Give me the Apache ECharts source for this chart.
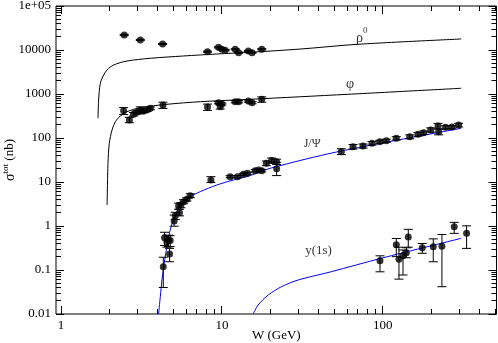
<!DOCTYPE html>
<html><head><meta charset="utf-8">
<script src="https://cdn.jsdelivr.net/npm/echarts@6/dist/echarts.min.js"></script>
<style>html,body{margin:0;padding:0;background:#fff}#c{width:498px;height:343px}</style>
</head><body><div id="c"></div>
<script>
const FONT = '"Liberation Serif","DejaVu Serif",serif';

// tick labels by decade exponent
const xTickLabels = { 0: '1', 1: '10', 2: '100' };
const yTickLabels = { '-2': '0.01', '-1': '0.1', 0: '1', 1: '10', 2: '100', 3: '1000', 4: '10000', 5: '1e+05' };
const xRange = [0.93, 510];
const yRange = [0.01, 100000];

// measured points: [W (GeV), sigma (nb), error low, error high]
const rhoData = [
  [2.47, 21900, 21200, 22600], [3.11, 16900, 16400, 17400], [4.28, 13700, 13300, 14100],
  [8.14, 9160, 8900, 9430], [9.52, 11500, 11150, 11850], [10.0, 10400, 10100, 10700],
  [10.48, 9900, 9600, 10200], [12.1, 10400, 10100, 10700], [12.7, 8700, 8450, 8950],
  [14.6, 9500, 9200, 9800], [15.4, 8700, 8450, 8950], [17.7, 10400, 10100, 10700]
];
const phiData = [
  [2.45, 417, 340, 490], [2.66, 257, 223, 295], [2.82, 346, 315, 380], [2.96, 384, 350, 420],
  [3.11, 433, 355, 510], [3.26, 411, 380, 445], [3.42, 433, 400, 468], [3.59, 473, 440, 505],
  [4.30, 562, 470, 650], [8.14, 507, 425, 590], [9.52, 634, 600, 670], [9.76, 515, 455, 580],
  [10.0, 593, 560, 625], [12.1, 668, 630, 705], [12.7, 668, 630, 705], [14.6, 693, 655, 730],
  [15.4, 634, 600, 670], [17.7, 757, 650, 860]
];
const jpsiData = [
  [4.32, 0.119, 0.040, 0.195], [4.40, 0.54, 0.36, 0.72], [4.55, 0.44, 0.33, 0.60],
  [4.66, 0.48, 0.34, 0.62], [4.77, 0.47, 0.34, 0.60], [4.73, 0.23, 0.154, 0.31],
  [5.05, 1.30, 0.99, 1.77], [5.13, 1.71, 1.40, 2.05], [5.45, 2.0, 1.7, 2.4],
  [5.38, 2.85, 2.4, 3.3], [5.56, 3.0, 2.6, 3.4], [5.77, 3.57, 3.2, 3.95],
  [6.06, 4.05, 3.7, 4.4], [6.36, 4.89, 4.4, 5.4], [8.55, 11.1, 9.8, 13.2],
  [11.26, 13.2, 12.5, 13.9], [12.5, 13.2, 12.5, 13.9], [13.6, 15.0, 14.2, 15.8],
  [14.4, 15.8, 15.0, 16.6], [16.1, 18.1, 17.0, 19.2], [16.9, 18.7, 17.6, 19.8],
  [17.7, 18.1, 17.0, 19.2], [18.9, 26.6, 23.5, 30], [20.4, 31, 27, 35],
  [21.9, 28.9, 25, 33], [21.9, 20, 14, 28],
  [55.3, 48.9, 42, 57], [65.4, 63.4, 56, 71], [75.4, 65.8, 59, 73], [85.8, 75.7, 69, 83],
  [95.8, 82.4, 76, 89], [105.3, 86.9, 80, 94], [121.5, 98.4, 90, 107], [147.2, 107, 96, 118],
  [165.7, 121, 110, 133], [179.7, 132, 121, 144], [198.7, 152, 136, 170], [220.6, 187, 160, 215],
  [222.8, 139, 118, 160], [246, 175, 160, 190], [269.4, 177, 162, 192], [296.5, 197, 178, 216]
];
const upsData = [
  [96.2, 0.163, 0.091, 0.21], [121.5, 0.376, 0.201, 0.52], [126.2, 0.175, 0.062, 0.33],
  [133.7, 0.211, 0.077, 0.285], [140.2, 0.247, 0.19, 0.32], [144.2, 0.562, 0.33, 0.84],
  [176.2, 0.321, 0.24, 0.40], [206.2, 0.339, 0.154, 0.51], [233.5, 0.345, 0.0417, 0.64],
  [278.4, 0.964, 0.68, 1.21], [332.4, 0.683, 0.31, 1.01]
];

// model curves: [W (GeV), sigma (nb)]
const rhoCurve = [
  [1.697, 280], [1.712, 731], [1.754, 1750], [1.839, 2700], [1.931, 3510], [2.122, 4560],
  [2.57, 5620], [3.59, 6480], [5.77, 7310], [9.31, 8110], [14.99, 8870], [30.6, 10500],
  [70.3, 13500], [307.7, 17800]
];
const phiCurve = [
  [1.933, 3.0], [1.958, 26.6], [1.995, 75.8], [2.074, 152], [2.175, 234], [2.335, 316],
  [2.57, 396], [3.11, 489], [4.55, 583], [7.33, 668], [14.99, 758], [60.9, 985], [307.7, 1349]
];
const jpsiCurve = [
  [4.04, 0.01], [4.14, 0.0247], [4.24, 0.0593], [4.38, 0.142], [4.55, 0.339], [4.77, 0.811],
  [5.13, 1.78], [5.64, 3.28], [6.36, 4.63], [7.33, 6.03], [9.31, 8.55], [11.8, 11.1],
  [15.0, 14.0], [19.95, 20.5], [52.8, 48.9], [307.7, 166]
];
const upsCurve = [
  [15.65, 0.01], [16.8, 0.016], [19.4, 0.027], [23.5, 0.0418], [29.8, 0.0593],
  [47.9, 0.0914], [98.0, 0.185], [307.7, 0.525]
];

function logTicks(min, max) {
  const out = [];
  for (let e = Math.floor(Math.log10(min)); e <= Math.ceil(Math.log10(max)); e++) {
    for (let m = 1; m <= 9; m++) {
      const v = m * Math.pow(10, e);
      if (v >= min * 0.999 && v <= max * 1.001) out.push([v, m === 1 ? 1 : 0]);
    }
  }
  return out;
}
const xTicks = logTicks(xRange[0], xRange[1]);
const yTicks = logTicks(yRange[0], yRange[1]);

function px(v) { return Math.round(v - 0.5) + 0.5; }
const LS = { stroke: '#000', lineWidth: 1 };

function tickSeries(isX) {
  const list = isX ? xTicks : yTicks;
  return {
    type: 'custom', silent: true, clip: false, z: 5,
    encode: { x: 0, y: 1 },
    data: list.map(t => isX ? [t[0], yRange[0], t[1]] : [xRange[0], t[0], t[1]]),
    renderItem(params, api) {
      const maj = api.value(2);
      const L = maj ? 8 : 5;
      if (isX) {
        const v = api.value(0);
        const b = api.coord([v, yRange[0]]), t = api.coord([v, yRange[1]]);
        const x = px(b[0]);
        return { type: 'group', children: [
          { type: 'line', shape: { x1: x, y1: b[1], x2: x, y2: b[1] - L }, style: LS },
          { type: 'line', shape: { x1: x, y1: t[1], x2: x, y2: t[1] + L }, style: LS }
        ]};
      } else {
        const v = api.value(1);
        const l = api.coord([xRange[0], v]), r = api.coord([xRange[1], v]);
        const y = px(l[1]);
        return { type: 'group', children: [
          { type: 'line', shape: { x1: l[0], y1: y, x2: l[0] + L, y2: y }, style: LS },
          { type: 'line', shape: { x1: r[0], y1: y, x2: r[0] - L, y2: y }, style: LS }
        ]};
      }
    }
  };
}

function errSeries(arr, color) {
  return {
    type: 'custom', silent: true, z: 3,
    encode: { x: 0, y: 1 },
    data: arr,
    renderItem(params, api) {
      const w = api.value(0);
      const lo = api.coord([w, api.value(2)]), hi = api.coord([w, api.value(3)]);
      const x = lo[0], c = 4.5;
      const st = { stroke: color, lineWidth: 1 };
      return { type: 'group', children: [
        { type: 'line', shape: { x1: x, y1: lo[1], x2: x, y2: hi[1] }, style: st },
        { type: 'line', shape: { x1: x - c, y1: lo[1], x2: x + c, y2: lo[1] }, style: st },
        { type: 'line', shape: { x1: x - c, y1: hi[1], x2: x + c, y2: hi[1] }, style: st }
      ]};
    }
  };
}

function pointSeries(arr) {
  return {
    type: 'scatter', silent: true, z: 4,
    data: arr.map(d => [d[0], d[1]]),
    symbol: 'circle', symbolSize: 7,
    itemStyle: { color: '#000' }
  };
}

function curveSeries(arr, color) {
  return {
    type: 'line', silent: true, z: 2,
    data: arr, showSymbol: false, symbol: 'none',
    smooth: 0.3,
    lineStyle: { color: color, width: 1 }
  };
}

const chart = echarts.init(document.getElementById('c'), null, { renderer: 'canvas' });
chart.setOption({
  animation: false,
  backgroundColor: '#fff',
  grid: { left: 56, right: 1.5, top: 6, bottom: 29, containLabel: false, outerBoundsMode: 'none',
          show: true, borderColor: '#000', borderWidth: 1, backgroundColor: 'transparent' },
  xAxis: {
    type: 'log', min: xRange[0], max: xRange[1], logBase: 10,
    axisLine: { show: false }, axisTick: { show: false }, splitLine: { show: false },
    axisLabel: {
      margin: 5, color: '#000', fontFamily: FONT, fontSize: 13,
      formatter: v => { const e = Math.log10(v); const r = Math.round(e); return Math.abs(e - r) < 1e-6 && xTickLabels[r] !== undefined ? xTickLabels[r] : ''; }
    },
    name: 'W (GeV)', nameLocation: 'middle', nameGap: 15.5, nameMoveOverlap: false,
    nameTextStyle: { color: '#000', fontFamily: FONT, fontSize: 13 }
  },
  yAxis: {
    type: 'log', min: yRange[0], max: yRange[1], logBase: 10,
    axisLine: { show: false }, axisTick: { show: false }, splitLine: { show: false },
    axisLabel: {
      margin: 5, color: '#000', fontFamily: FONT, fontSize: 13,
      formatter: v => { const e = Math.log10(v); const r = Math.round(e); return Math.abs(e - r) < 1e-6 && yTickLabels[r] !== undefined ? yTickLabels[r] : ''; }
    },
    name: '{s|σ}{t|tot}{n| (nb)}', nameLocation: 'middle', nameGap: 37, nameRotate: 90, nameMoveOverlap: false,
    nameTextStyle: {
      color: '#000', fontFamily: FONT,
      rich: {
        s: { fontFamily: FONT, fontSize: 14, lineHeight: 18, color: '#000' },
        t: { fontFamily: FONT, fontSize: 9, verticalAlign: 'top', color: '#000' },
        n: { fontFamily: FONT, fontSize: 13, color: '#000' }
      }
    }
  },
  series: [
    curveSeries(rhoCurve, '#000'),
    curveSeries(phiCurve, '#000'),
    curveSeries(jpsiCurve, '#0000ff'),
    curveSeries(upsCurve, '#0000ff'),
    errSeries(rhoData, '#000'), errSeries(phiData, '#000'),
    errSeries(jpsiData, '#000'), errSeries(upsData, '#000'),
    pointSeries(rhoData), pointSeries(phiData), pointSeries(jpsiData), pointSeries(upsData),
    tickSeries(true), tickSeries(false),
    {
      type: 'scatter', silent: true, z: 6, symbolSize: 1,
      itemStyle: { color: 'rgba(0,0,0,0)' },
      data: [
        { value: [74, 18750], label: { formatter: '{a|ρ}{s|0}' } },
        { value: [62.7, 1690], label: { formatter: '{a|φ}' } },
        { value: [36.4, 73], label: { formatter: '{j|J/Ψ}' } },
        { value: [39.9, 0.27], label: { formatter: '{y|y(1s)}' } }
      ],
      label: {
        show: true, position: 'inside', color: '#000', fontFamily: FONT,
        rich: {
          a: { fontFamily: FONT, fontSize: 14, lineHeight: 24, color: '#000' },
          s: { fontFamily: FONT, fontSize: 9, verticalAlign: 'top', color: '#000' },
          j: { fontFamily: FONT, fontSize: 12, color: '#000' },
          y: { fontFamily: FONT, fontSize: 13, color: '#000' }
        }
      }
    }
  ]
});
</script></body></html>
